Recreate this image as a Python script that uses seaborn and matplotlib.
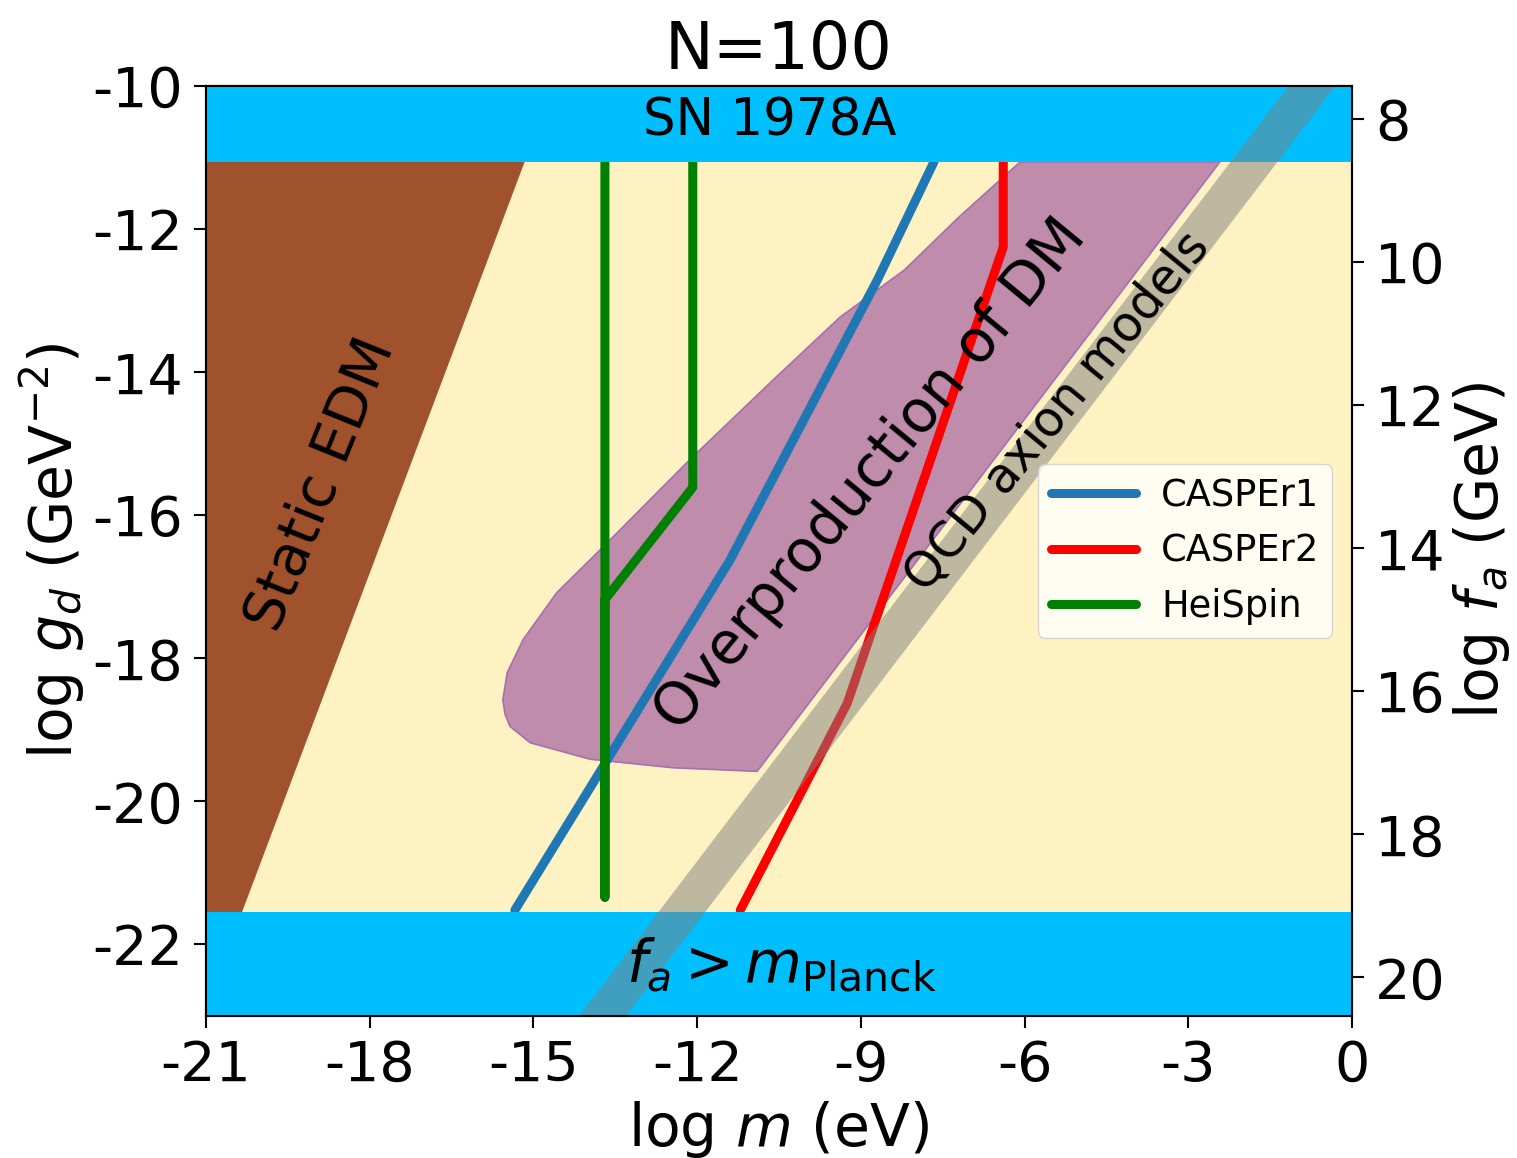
import numpy as np
import pandas as pd
import matplotlib
matplotlib.use("Agg")
import matplotlib.pyplot as plt
import seaborn as sns

# axis ranges / ticks
m_ticks = [-21, -18, -15, -12, -9, -6, -3, 0]
g_ticks = [-22, -20, -18, -16, -14, -12, -10]
fa_ticks = [8, 10, 12, 14, 16, 18, 20]
fa_offset = 2.46  # log f_a = -log g_d - offset

# excluded bands
sn_g = -11.06        # SN 1978A bound
planck_g = -21.55    # f_a > m_Planck

# static EDM region (right edge)
edm_g = [-23.0, -10.0]
edm_m = [-21.07, -14.65]

# QCD axion band
qcd_m = [-15.0, 0.0]
qcd_upper = [-23.82, -8.82]
qcd_lower = [-24.68, -9.68]

# overproduction of DM region outline
dm_m = [-2.42, -6.08, -7.20, -8.20, -9.38, -10.61, -12.13, -13.72, -14.57, -15.19,
        -15.48, -15.56, -15.52, -15.43, -15.06, -13.96, -12.44, -10.90]
dm_g = [-11.06, -11.06, -11.83, -12.57, -13.23, -14.11, -15.22, -16.44, -17.08, -17.74,
        -18.20, -18.58, -18.78, -18.95, -19.18, -19.41, -19.53, -19.58]

# sensitivity curves
casper1_m = [-15.34, -11.40, -8.69, -7.66]
casper1_g = [-21.52, -16.63, -12.70, -11.06]
casper2_m = [-11.21, -9.25, -6.39, -6.39]
casper2_g = [-21.52, -18.63, -12.25, -11.06]
heispin_m = [-12.08, -12.08, -13.69, -13.69, -13.69]
heispin_g = [-11.06, -15.61, -17.18, -21.34, -11.06]

curves = {
    "CASPEr1": (casper1_m, casper1_g, "#1f77b4"),
    "CASPEr2": (casper2_m, casper2_g, "red"),
    "HeiSpin": (heispin_m, heispin_g, "green"),
}

sns.set_style("ticks")
plt.rcParams['font.family'] = ['DejaVu Sans']
plt.rcParams['axes.unicode_minus'] = False
for k in ['text.color', 'axes.labelcolor', 'xtick.color', 'ytick.color', 'axes.edgecolor']:
    plt.rcParams[k] = 'black'

fig = plt.figure(figsize=(15.17, 11.58), dpi=100)
ax = fig.add_axes([0.1358, 0.1226, 0.7554, 0.8031])
ax.set_facecolor('#fff2c2')

# static EDM
ax.fill_betweenx(edm_g, -21, edm_m, color='sienna', lw=0, zorder=1)

# overproduction of DM
ax.fill(dm_m, dm_g, facecolor='#c08cac', edgecolor='#a66fb0', lw=1.2, zorder=2)

# sensitivity lines
for name, (xm, yg, col) in curves.items():
    sns.lineplot(x=xm, y=yg, sort=False, estimator=None, color=col, linewidth=6.5,
                 ax=ax, zorder=3, label=name, solid_capstyle='round')

# excluded bands
ax.axhspan(sn_g, -10, color='deepskyblue', lw=0, zorder=4)
ax.axhspan(-23, planck_g, color='deepskyblue', lw=0, zorder=4)

# QCD band
ax.fill_between(qcd_m, qcd_lower, qcd_upper, color='gray', alpha=0.5, lw=0, zorder=5)

# labels on regions
ax.text(-10.66, -10.5, 'SN 1978A', fontsize=37, ha='center', va='center', zorder=6)
ax.text(-10.45, -22.28, r'$f_a > m_{\rm Planck}$', fontsize=42, ha='center', va='center', zorder=6)
ax.text(-18.87, -15.57, 'Static EDM', fontsize=41, rotation=68, ha='center', va='center', zorder=6)
ax.text(-8.83, -15.43, 'Overproduction of DM', fontsize=42, rotation=50.5, ha='center', va='center', zorder=6)
ax.text(-5.41, -14.55, 'QCD axion models', fontsize=35, rotation=50.5, ha='center', va='center', zorder=6)

ax.set_xlim(-21, 0)
ax.set_ylim(-23, -10)
ax.set_xticks(m_ticks)
ax.set_yticks(g_ticks)
ax.tick_params(labelsize=40, length=8.5, width=1.5, pad=8)
ax.set_xlabel(r'log $m$ (eV)', fontsize=42, labelpad=4)
ax.set_ylabel(r'log $g_d$ (GeV$^{-2}$)', fontsize=42)
ax.set_title('N=100', fontsize=47, pad=12)
for s in ax.spines.values():
    s.set_linewidth(1.5)

leg = ax.legend(loc='center right', bbox_to_anchor=(0.999, 0.5), fontsize=26.5,
                handlelength=2.3, handletextpad=0.7, borderpad=0.35, framealpha=0.8)
leg.set_zorder(10)

ax2 = ax.twinx()
ax2.set_ylim(23 - fa_offset, 10 - fa_offset)
ax2.set_yticks(fa_ticks)
ax2.tick_params(labelsize=40, length=8.5, width=1.5, pad=8)
ax2.set_ylabel(r'log $f_a$ (GeV)', fontsize=42)
for s in ax2.spines.values():
    s.set_linewidth(1.5)

fig.savefig('out.png', dpi=100)
